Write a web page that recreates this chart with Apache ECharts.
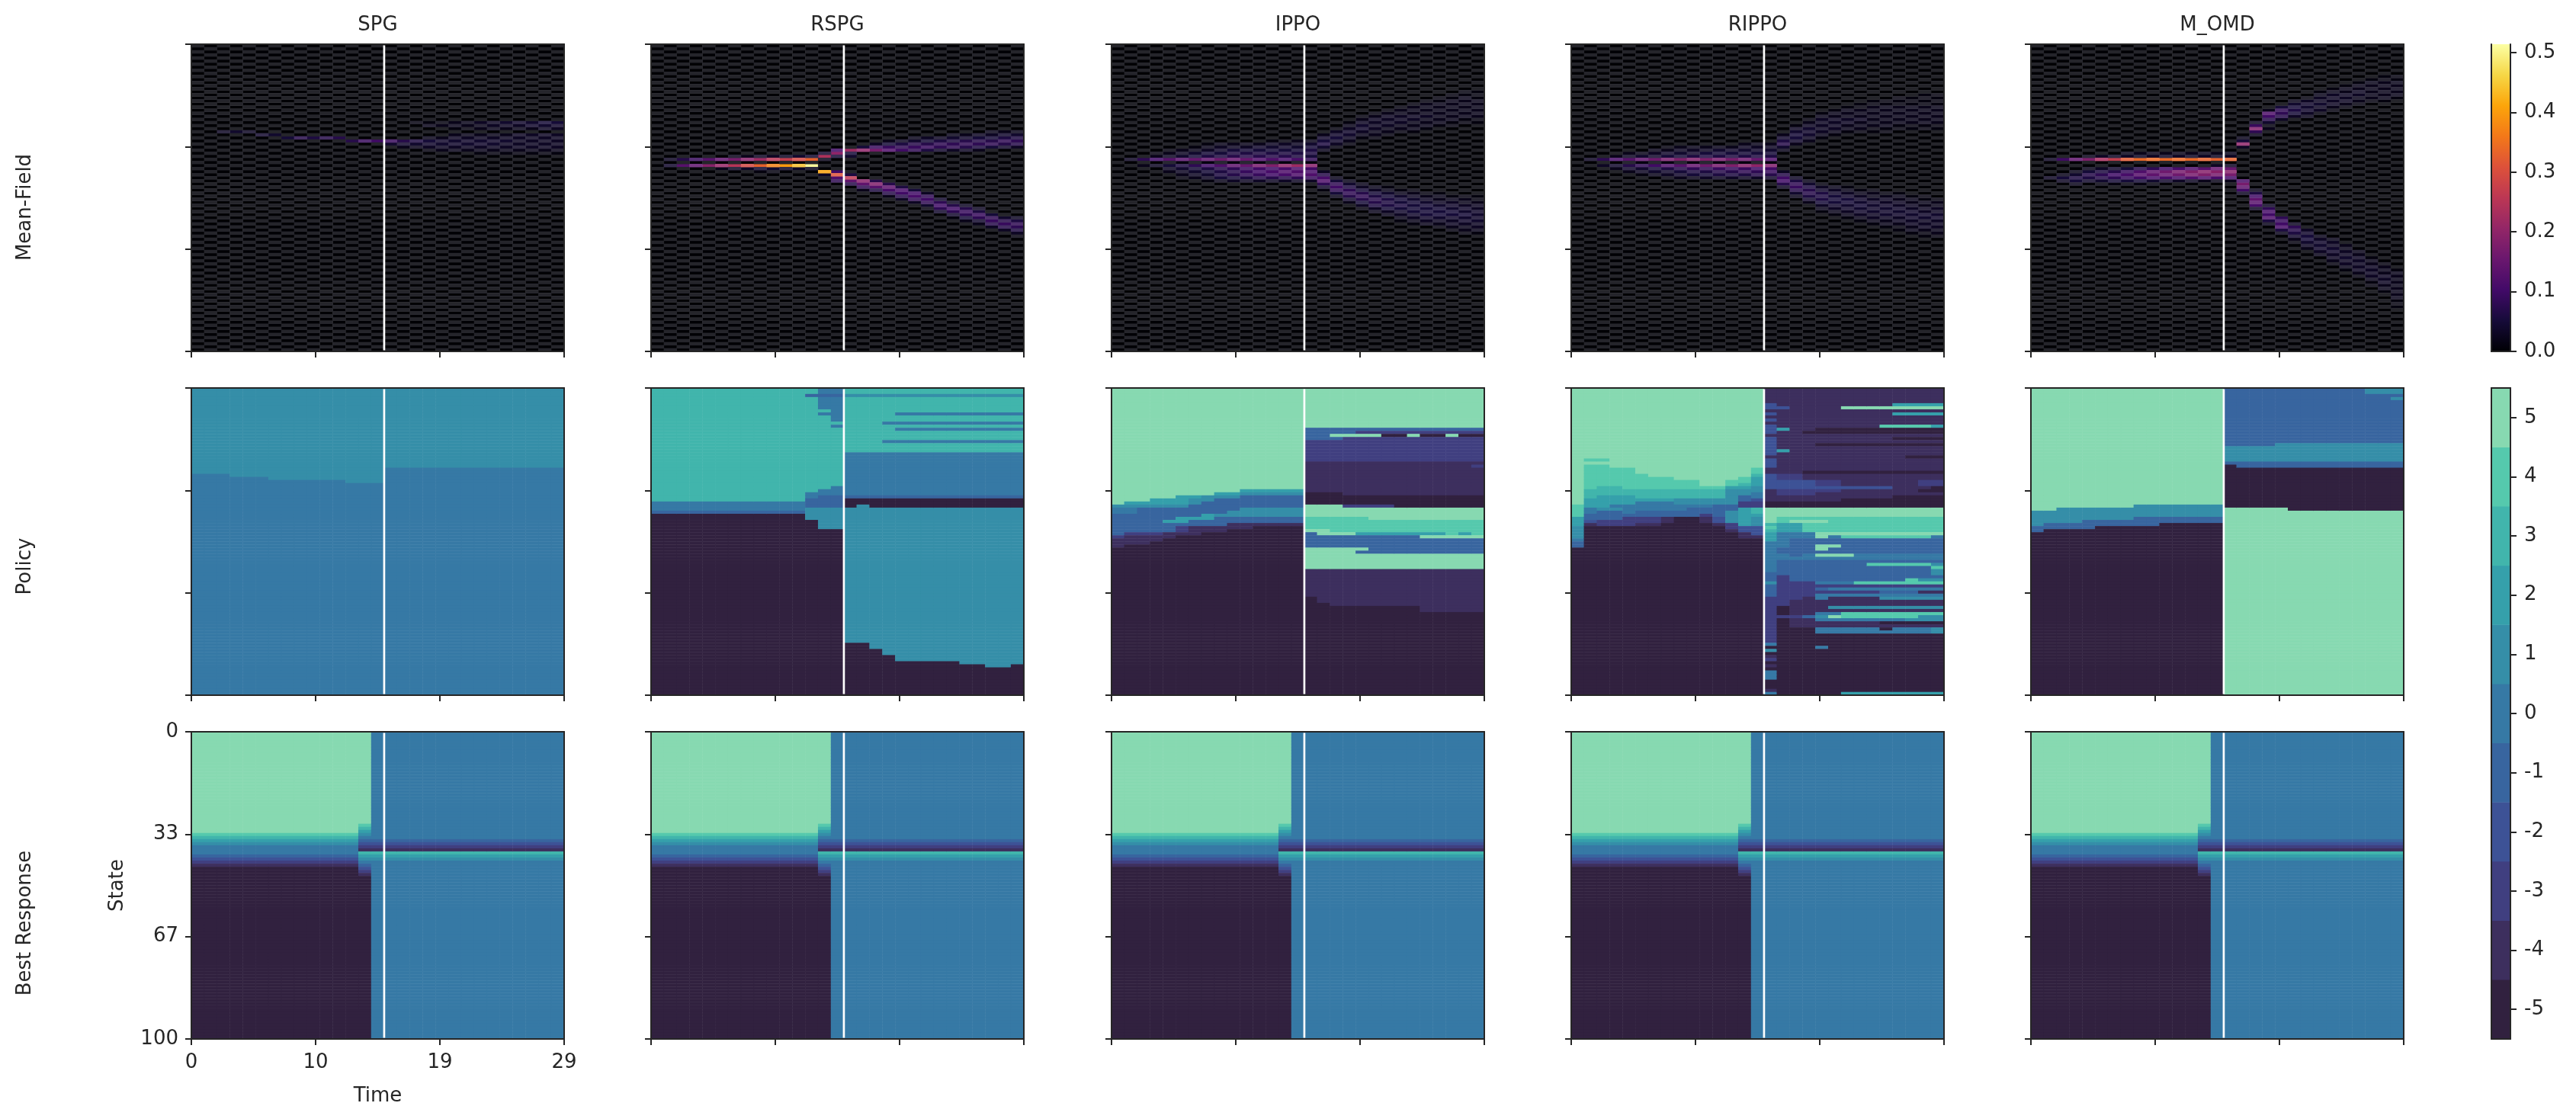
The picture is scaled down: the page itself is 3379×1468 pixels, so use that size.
<!DOCTYPE html>
<html><head><meta charset="utf-8">
<style>html,body{margin:0;padding:0;background:#fff}#c{width:3379px;height:1468px}</style>
<script src="https://cdn.jsdelivr.net/npm/echarts@6/dist/echarts.min.js"></script>
</head><body><div id="c"></div>
<script>
const methods = ['SPG','RSPG','IPPO','RIPPO','M_OMD'];
const rowNames = ['Mean-Field','Policy','Best Response'];
const timeTicks = [0,10,19,29];
const stateTicks = [0,33,67,100];
const levels = [-5,-4,-3,-2,-1,0,1,2,3,4,5];
const levelColors = ['#31213f','#3d2f5e','#403f80','#3d5296','#38659f','#3679a5','#358ea8','#35a0ab','#41b5ac','#55c9ad','#87d9b1'];
const infernoColors = ['#000004','#160b39','#420a68','#6a176e','#932667','#bc3754','#dd513a','#f37819','#fca50a','#f6d746','#fcffa4'];
const infernoLight = ['#25252b','#392f56','#5e2f7e','#803a84','#a3467e','#c6556d','#e26b57','#f58c3b','#fcb22f','#f7dd62','#fcffb1'];
const densityMax = 0.514;
const switchTime = 15;

// Mean-field density: one entry per time step; each holds [firstState, hundredths...] runs.
const meanSPG = [[],[],[[28,3]],[[28,4]],[[28,3]],[[29,4]],[[29,4]],[[30,5]],[[30,7]],[[30,6]],[[30,7]],[[30,7]],[[31,7]],[[31,9]],[[31,10]],
 [[31,9,4]],[[31,7,4,2]],[[25,1],[31,6,4,2]],[[25,1,2],[30,2,5,4,3,1]],[[25,1,2],[30,2,4,4,3,2]],[[25,2,2,1],[29,2,3,4,4,3,2]],[[25,2,2,1],[29,2,3,4,4,3,2]],
 [[25,3,2,2],[29,2,3,4,4,3,2,1]],[[25,3,3,2],[29,2,3,4,4,3,2,1]],[[25,4,3,2],[29,2,3,4,3,3,2,1]],[[25,4,3,2],[29,3,3,3,3,3,2,1]],[[25,4,4,2],[29,3,3,3,3,3,2,1]],[[25,5,4,3],[29,3,3,3,3,3,2,1]],[[25,5,4,3],[29,3,3,3,3,3,2,1]]];
const meanRSPG = [[],[[37,3],[39,4]],[[37,7],[39,13]],[[37,9],[39,14]],[[37,13],[39,19]],[[37,14],[39,21,2]],[[36,2,17],[39,25,3]],[[36,2,19],[39,29,3]],[[36,3,22],[39,33,4,1]],[[36,3,25],[39,37,4,1]],[[36,3,27],[39,40,3]],[[36,4,29],[39,44,3]],[[36,4,33],[39,51,2]],
 [[35,4,24,2],[41,41,3]],[[34,10,20,5],[41,10,31,12,8]],[[34,22,5,4],[42,6,26,14,7]],[[33,5,20],[44,19,14,8,2]],[[32,3,9,17],[44,7,18,13,6]],[[31,2,5,9,12],[45,7,14,11,7,2]],[[31,3,6,8,10],[46,6,11,10,7,3]],[[30,2,4,7,9,8],[47,5,10,11,8,3]],[[30,3,5,7,9,6],[48,3,8,10,8,4,1]],[[30,3,6,8,8,4],[50,4,8,10,8,4]],[[29,2,4,6,8,8,3],[51,3,7,10,8,4,1]],[[29,2,4,7,8,7,3],[52,3,7,9,8,5,2]],[[29,3,5,7,8,6,2],[53,3,6,9,8,4,2]],[[28,2,3,5,7,8,5],[55,5,8,9,7,3]],[[28,2,4,6,8,7,4],[56,4,7,9,7,3]],[[28,2,4,6,8,7,3],[56,3,6,8,8,6,3,1]]];
const meanIPPO = [[],[[37,3]],[[37,8],[39,2]],[[35,1,2,10,0,3]],[[34,1,2,3,13,1,5,3,2]],[[34,2,3,4,13,1,6,4,3,2,1]],[[33,1,2,4,5,15,1,8,5,4,3,2]],[[32,1,2,3,5,6,14,1,10,6,5,4,3,1]],[[32,2,3,4,5,6,16,1,12,7,6,6,5,2]],[[32,2,3,5,6,7,15,1,14,8,7,7,5,3]],[[32,2,3,5,6,7,15,1,15,9,9,8,6,3]],[[32,2,4,5,6,7,12,1,17,10,10,9,7,3]],[[31,1,3,4,5,6,7,12,1,18,10,11,10,7,3]],[[31,1,3,4,5,6,7,11,1,20,11,12,11,7,3]],[[31,2,3,4,5,6,6,11,1,22,12,12,12,8,3]],[[31,2,4,5,6,6,5,8,1,19,10,11,12,9,3]],
 [[29,2,4,5,6,4,2],[41,3,7,11,12,8,4,1]],[[27,1,3,4,5,4,3,1],[43,2,5,8,10,8,5,2]],[[25,1,2,3,4,4,3,2,1],[44,2,4,6,8,8,7,4,2]],[[23,1,2,3,4,4,3,2,1],[45,2,3,5,7,8,7,5,3,1]],[[22,1,2,3,3,3,3,2,2,1],[46,2,3,5,6,7,7,6,3,2]],[[21,1,2,3,3,3,3,2,2,1],[46,1,2,4,5,6,6,6,5,3,2]],[[20,1,2,2,3,3,3,2,2,1],[47,1,2,4,5,5,6,5,4,3,2,1]],[[19,1,2,2,2,3,3,2,2,2,1],[47,1,2,3,4,5,5,5,5,4,3,2,1]],[[18,1,2,2,2,2,3,2,2,2,1],[48,1,2,3,4,5,5,5,5,4,3,2]],[[17,1,1,2,2,2,2,2,2,2,1],[48,1,2,2,3,4,5,5,5,4,3,2,1]],[[16,1,1,2,2,2,2,2,2,2,1,1],[49,1,2,3,4,4,5,5,4,3,3,2,1]],[[15,1,1,2,2,2,2,2,2,2,1,1],[49,1,2,2,3,4,4,5,4,4,3,2,2,1]],[[15,1,1,1,2,2,2,2,2,2,1,1],[49,1,1,2,3,3,4,4,4,4,3,3,2,1]]];
const meanRIPPO = [[],[[37,3]],[[37,8],[39,3]],[[36,2,11,0,4,2]],[[35,2,3,13,1,7,4,2]],[[35,2,4,14,1,8,4,3,1]],[[34,2,3,4,16,1,10,5,4,2]],[[33,1,2,4,5,17,1,12,6,4,3,1]],[[33,2,3,4,5,18,1,13,7,5,4,2]],[[33,2,3,4,6,18,1,15,8,6,5,2]],[[33,2,3,5,6,18,1,16,8,6,5,3]],[[33,2,4,5,6,17,1,17,9,7,6,3]],[[33,2,4,5,6,17,1,18,9,7,6,3]],[[32,2,3,4,5,6,16,1,19,9,8,6,3]],[[32,2,3,4,5,6,15,1,20,10,8,7,3]],[[32,2,3,4,5,6,12,1,18,10,9,7,4]],
 [[29,2,4,6,7,4,2],[41,3,7,10,10,7,3]],[[26,1,3,4,5,5,4,2],[43,3,6,8,9,7,4,2]],[[24,1,2,3,4,4,4,3,2],[44,2,4,6,7,7,6,4,2]],[[22,1,2,3,3,3,3,3,2,1],[45,1,3,4,6,6,6,5,3,2,1]],[[21,1,2,2,3,3,3,3,2,1],[46,2,3,4,5,5,5,4,3,2,1]],[[20,1,2,2,2,3,3,2,2,1],[46,1,2,3,4,5,5,4,4,3,2,1]],[[19,1,1,2,2,2,3,2,2,2,1],[47,1,2,3,4,4,5,4,4,3,2,1]],[[18,1,1,2,2,2,2,2,2,2,1,1],[47,1,2,2,3,4,4,4,4,3,3,2,1]],[[18,1,1,2,2,2,2,2,2,2,1,1],[48,1,2,3,3,4,4,4,4,3,2,2,1]],[[17,1,1,1,2,2,2,2,2,2,1,1],[48,1,2,2,3,3,4,4,4,3,3,2,1,1]],[[17,1,1,1,2,2,2,2,2,2,1,1],[49,1,2,2,3,3,4,4,4,3,3,2,2,1]],[[16,1,1,1,1,2,2,2,2,2,2,1,1],[49,1,1,2,2,3,3,4,4,3,3,3,2,1,1]],[[16,1,1,1,1,2,2,2,2,2,2,1,1],[50,1,2,2,3,3,4,4,3,3,3,2,2,1]]];
const meanOMD = [[],[[37,3],[43,3]],[[37,10],[42,2,5,3]],[[37,14],[41,2,4,6,5,2]],[[36,2,18],[40,2,5,7,6,4]],[[36,3,23],[40,3,6,8,7,4,1]],[[36,3,27],[40,4,7,10,8,5,1]],[[35,2,3,32],[40,5,9,11,9,5,1]],[[35,2,3,34],[40,7,12,13,10,5,1]],[[35,2,3,34],[40,8,14,14,11,4,1]],[[35,2,3,34],[40,10,16,15,11,4]],[[35,2,3,34],[40,11,17,16,11,3]],[[35,2,3,34],[40,12,18,17,12,3]],[[35,2,3,33],[40,13,19,18,12,2]],[[35,2,3,33],[39,3,15,19,17,11,2]],[[35,2,3,33],[39,3,15,19,17,11,2]],
 [[30,2,5,20,3],[44,11,17,14,10,3]],[[25,3,9,18,8,2],[47,2,6,10,14,13,11,3]],[[21,2,12,10,7,4,1,2],[52,3,8,11,10,12,6,2]],[[20,5,8,8,7,3],[56,8,9,10,11,6,2]],[[18,2,4,5,6,5,3],[58,3,8,7,6,4,2,1]],[[17,1,3,4,4,4,3,2],[60,3,4,5,5,4,3,2]],[[15,1,2,3,3,4,3,3,1],[62,2,3,4,4,4,3,2]],[[14,1,2,3,3,3,3,2,1],[63,2,3,3,4,4,3,3,2,1]],[[13,1,2,2,3,3,3,2,1],[65,2,2,3,3,4,3,3,2,1]],[[12,1,2,2,3,3,2,2,1],[67,2,2,3,3,3,3,3,2,1]],[[11,1,2,2,2,2,2,2,1],[69,1,2,2,3,3,3,3,2,1,1]],[[10,1,1,2,2,2,2,2,2,1],[71,1,2,2,2,3,3,3,2,2,1]],[[10,1,1,2,2,2,2,2,1],[73,1,2,2,2,2,2,2,2,2,2,1,1,1]]];

// Policy / best response actions: [firstTime, lastTime, firstState, value, endState, value, endState, ...], later layers override.
const policySPG = [[0,2,0,1,28,0,100],[3,5,0,1,29,0,100],[6,11,0,1,30,0,100],[12,14,0,1,31,0,100],[15,28,0,1,26,0,100]];
const policyRSPG = [[0,11,0,3,37,0,40,-1,41,-5,100],[12,12,0,3,2,-1,3,3,34,0,36,-1,39,1,43,-5,100],[13,13,0,0,2,-1,3,0,7,3,8,0,9,3,33,0,35,-1,39,1,46,-5,100],[14,14,0,0,2,-1,3,0,11,3,12,0,13,3,32,0,35,-1,39,1,46,-5,100],
 [15,28,0,3,2,1,3,3,21,0,35,-1,36,-5,39,1,83,-5,100],[16,16,38,1,39],[17,17,39,1,85],[18,18,39,1,87],[19,23,39,1,89],[24,25,39,1,90],[26,27,39,1,91],[28,28,39,1,90],
 [18,28,11,0,12],[18,28,17,0,18],[19,28,8,0,9],[19,28,13,0,14]];
const policyIPPO = [[0,0,0,5,38,1,39,0,41,-1,48,-3,49,-4,52,-5,100],[1,1,0,5,37,2,38,1,39,0,41,-1,47,-3,48,-4,51,-5,100],[2,2,0,5,37,2,38,1,39,-1,47,-3,48,-4,51,-5,100],[3,3,0,5,36,2,38,1,39,-1,47,-3,48,-4,50,-5,100],[4,4,0,5,36,2,38,1,39,-1,43,2,44,-1,47,-4,49,-5,100],[5,5,0,5,35,2,38,1,39,-1,42,2,44,-1,45,-3,47,-4,48,-5,100],[6,6,0,5,35,2,36,1,38,-1,42,2,43,-1,45,-4,48,-5,100],[7,7,0,5,35,1,37,-1,41,2,43,-1,45,-4,47,-5,100],[8,8,0,5,34,2,35,1,36,-1,41,1,42,-1,45,-4,47,-5,100],[9,9,0,5,34,2,35,1,36,-1,40,1,42,-1,44,-4,46,-5,100],[10,10,0,5,33,2,34,1,35,-1,39,1,42,-1,44,-4,46,-5,100],[11,14,0,5,33,2,34,1,35,-1,39,1,42,-1,44,-4,45,-5,100],
 [15,28,0,5,13,-1,17,-3,24,-4,34,-5,38,5,42,4,46,5,47,-1,52,5,59,-4,68,-5,100],[17,28,46,4,47],[16,18,47,5,48],[19,28,47,2,48],[26,26,47,4,48],[28,28,47,4,48],[24,28,48,5,49],[20,28,42,5,43],[20,28,52,-1,53],[19,28,53,-1,54],[16,16,59,-4,70],[17,23,59,-4,71],[24,28,59,-4,73],
 [17,20,15,5,16],[21,22,15,-5,16],[23,23,15,5,16],[24,25,15,-5,16],[26,26,15,5,16],[27,28,15,-5,16],[19,28,14,-3,15],[18,28,16,-3,17],[18,28,34,-4,35],[18,21,38,-3,39],[22,28,38,-5,39],[28,28,25,-3,26]];
const policyRIPPO = [[0,0,0,5,38,4,42,2,45,1,49,0,50,-1,52,-5,100],[1,1,0,5,23,4,24,5,25,4,33,3,36,2,39,0,41,-1,43,-2,44,-4,45,-5,100],[2,2,0,5,23,4,24,5,25,4,32,3,35,2,39,1,40,-1,43,-3,45,-5,100],[3,3,0,5,26,4,32,3,35,2,38,0,39,1,40,-1,43,-3,45,-5,100],[4,4,0,5,26,4,33,3,35,2,38,0,41,-1,42,-3,45,-5,100],[5,5,0,5,28,4,33,3,36,2,37,0,40,-1,42,-3,44,-4,45,-5,100],[6,6,0,5,29,4,33,3,36,2,37,0,40,-1,42,-3,44,-4,45,-5,100],[7,7,0,5,29,4,33,3,36,2,37,0,40,-1,42,-4,44,-5,100],[8,8,0,5,30,4,33,3,36,1,38,0,40,-1,42,-5,100],[9,9,0,5,30,4,33,3,36,1,38,0,39,-1,42,-5,100],[10,10,0,5,32,4,33,3,36,1,38,0,39,-1,41,-3,42,-4,44,-5,100],[11,11,0,5,32,4,33,3,36,1,38,-1,42,-2,44,-4,45,-5,100],[12,12,0,5,30,4,32,2,33,1,38,-1,40,1,44,-3,46,-4,47,-5,100],[13,13,0,5,29,4,31,3,32,2,33,1,35,-1,37,-3,39,2,45,-2,47,-4,49,-5,100],[14,14,0,5,26,4,28,3,29,2,32,1,34,0,36,-2,37,-3,39,3,41,2,42,1,45,-2,48,-4,49,-5,100],
 [15,15,0,-4,5,-2,7,-4,8,-2,9,-4,10,-2,11,-4,12,-2,15,-4,16,-2,22,-4,23,-2,26,-4,28,-2,33,-4,37,-5,39,5,44,3,45,4,46,3,47,2,50,0,60,-1,63,1,64,-1,68,-3,83,0,84,-5,85,1,86,-5,87,-4,88,-3,89,-5,90,-4,91,-5,92,0,95,-5,98,-4,99,0,100],
 [16,28,0,-4,37,-5,39,5,42],[16,16,42,4,44,2,47,0,52,-1,54,0,56,-1,61,-3,71,-5,74,-3,75,-5,100],[17,17,42,4,43,5,44,2,47,0,49,-1,55,0,56,-1,63,-3,69,-4,74,-3,75,-4,78,-5,100],[18,18,42,4,43,5,44,4,47,0,49,-1,54,0,56,-1,63,-3,68,-4,74,-1,75,-4,78,-5,100],[19,19,42,4,43,5,44,4,47,5,49,-1,51,5,53,-1,54,5,55,0,56,-1,63,0,64,-3,65,-1,66,-3,67,0,69,-4,73,0,74,1,75,0,76,-4,78,0,80,-5,84,0,85,-5,100],
 [20,28,42,4,47,5,48,4,49,-1,54,0,56,-1,63,4,64,-3,65,0,66,-3,67,0,68,-4,71,1,72,-4,73,4,75,0,76,-4,78,0,80,-5,100],[20,20,48,0,49,-1,51,5,52,-1,54,5,55],[21,21,54,5,55],[20,21,63,0,64],[28,28,48,0,49],[23,27,57,4,58],[28,28,57,1,58,4,59,1,61],[26,26,62,4,63],[27,28,62,1,63],[24,26,66,-1,67],[27,28,66,-4,67],[24,28,68,1,69],[20,20,73,0,74],[20,20,74,5,75],[27,28,74,1,75],[26,28,75,1,76],[24,28,76,-5,77],[24,24,78,-5,79],[28,28,78,1,80],[21,28,99,2,100],
 [16,16,6,-2,7],[21,28,6,5,7],[25,28,5,2,6],[25,28,8,2,9],[24,27,12,4,13],[28,28,12,2,13],[16,16,13,2,14],[19,28,13,-5,14],[18,28,14,-5,15],[25,28,16,-5,17],[19,28,18,-5,19],[16,16,20,2,21],[26,28,22,-5,23],[18,28,27,-5,28],[16,17,28,-3,30],[16,18,30,-2,32],[19,20,30,-3,32],[27,28,30,-3,32],[16,24,32,-2,33],[25,28,32,-4,33],[28,28,32,-5,33],[16,20,33,-3,34],[27,28,33,-5,34],[16,18,34,-3,35],[25,28,35,-5,36],[21,28,36,-5,37]];
const policyOMD = [[0,0,0,5,40,1,45,-1,47,-5,100],[1,1,0,5,40,1,44,-1,46,-5,100],[2,3,0,5,39,1,44,-1,46,-5,100],[4,4,0,5,39,1,43,-1,46,-5,100],[5,7,0,5,39,1,43,-1,45,-5,100],[8,9,0,5,38,1,42,-1,45,-5,100],[10,14,0,5,38,1,42,-1,44,-5,100],[15,15,0,-1,19,1,24,-1,25,-5,39,5,100],[16,18,0,-1,19,1,24,-1,26,-5,39,5,100],[19,19,0,-1,18,1,24,-1,26,-5,39,5,100],[20,28,0,-1,18,1,24,-1,26,-5,40,5,100],[26,28,0,1,2],[28,28,3,1,4]];
const bestResponse = [[0,12,0,5,33,4,34,3,35,2,36,1,37,0,40,-1,41,-2,42,-3,43,-4,44,-5,100],[13,13,0,5,30,4,31,3,32,2,33,1,34,0,35,-1,36,-2,37,-3,38,-4,39,3,40,2,41,1,42,0,43,-1,44,-2,45,-3,46,-4,47,-5,100],[14,28,0,0,35,-1,36,-2,37,-3,38,-4,39,3,40,2,41,1,42,0,100]];

const meanPanels = [meanSPG,meanRSPG,meanIPPO,meanRIPPO,meanOMD];
const policyPanels = [policySPG,policyRSPG,policyIPPO,policyRIPPO,policyOMD];

const T = 29, S = 100;
const times = Array.from({length:T},(_,i)=>String(i));
const states = Array.from({length:S},(_,i)=>String(i));

function expandMean(cols){
  const light=[],dark=[];
  cols.forEach((segs,t)=>{
    const col=new Array(S).fill(0);
    segs.forEach(seg=>seg.slice(1).forEach((v,i)=>{col[seg[0]+i]=v/100;}));
    col.forEach((v,s)=>{((t+s)%2===0?light:dark).push([t,s,v]);});
  });
  return {light,dark};
}
function expandActions(layers){
  const g=Array.from({length:T},()=>new Array(S).fill(-5));
  layers.forEach(l=>{for(let t=l[0];t<=l[1];t++){let r=l[2];for(let i=3;i<l.length;i+=2){for(;r<l[i+1];r++)g[t][r]=l[i];}}});
  const out=[];g.forEach((c,t)=>c.forEach((v,s)=>out.push([t,s,v])));return out;
}

const INK='#262626', FONT='DejaVu Sans', FS=26;
const lefts=[251,854,1458,2061,2664], tops=[58,509,960], W=489, H=403;
const grids=[],xAxes=[],yAxes=[],series=[],darkIdx=[],lightIdx=[],actionIdx=[];

function addPanel(r,c){
  const gi=grids.length;
  grids.push({left:lefts[c],top:tops[r],width:W,height:H,containLabel:false});
  const a=gi*2, b=gi*2+1;
  const showX=(r===2&&c===0), showY=(r===2&&c===0);
  const line={show:true,onZero:false,lineStyle:{color:INK,width:2}};
  const base={z:10,silent:true};
  xAxes[a]={...base,gridIndex:gi,type:'category',data:times,position:'top',axisLine:line,axisTick:{show:false},axisLabel:{show:false},splitLine:{show:false}};
  xAxes[b]={...base,gridIndex:gi,type:'value',min:0,max:29,interval:29/3,position:'bottom',axisLine:line,
    axisTick:{show:true,length:8,lineStyle:{color:INK,width:2}},splitLine:{show:false},
    axisLabel:{show:showX,margin:18,alignMinLabel:'center',alignMaxLabel:'center',color:INK,fontFamily:FONT,fontSize:FS,formatter:v=>timeTicks[Math.round(v/(29/3))]},
    name:showX?'Time':'',nameLocation:'middle',nameGap:62,nameTextStyle:{color:INK,fontFamily:FONT,fontSize:FS}};
  yAxes[a]={...base,gridIndex:gi,type:'category',data:states,inverse:true,position:'right',axisLine:line,axisTick:{show:false},axisLabel:{show:false},splitLine:{show:false}};
  yAxes[b]={...base,gridIndex:gi,type:'value',min:0,max:100,interval:100/3,inverse:true,position:'left',axisLine:line,
    axisTick:{show:true,length:8,lineStyle:{color:INK,width:2}},splitLine:{show:false},
    axisLabel:{show:showY,margin:17,verticalAlignMinLabel:'middle',verticalAlignMaxLabel:'middle',color:INK,fontFamily:FONT,fontSize:FS,formatter:v=>stateTicks[Math.round(v/(100/3))]},
    name:showY?'State':'',nameLocation:'middle',nameGap:84,nameRotate:90,nameTextStyle:{color:INK,fontFamily:FONT,fontSize:FS}};
  const heat=(data)=>({type:'heatmap',xAxisIndex:a,yAxisIndex:a,data,progressive:0,animation:false,silent:true,z:2,emphasis:{disabled:true}});
  if(r===0){
    const m=expandMean(meanPanels[c]);
    darkIdx.push(series.length);series.push(heat(m.dark));
    lightIdx.push(series.length);series.push(heat(m.light));
  }else{
    actionIdx.push(series.length);
    series.push(heat(expandActions(r===1?policyPanels[c]:bestResponse)));
  }
  series.push({type:'line',xAxisIndex:b,yAxisIndex:b,data:[[switchTime,0.4],[switchTime,99.6]],symbol:'none',silent:true,animation:false,z:5,lineStyle:{color:'#ffffff',width:2.7}});
}
for(let r=0;r<3;r++)for(let c=0;c<5;c++)addPanel(r,c);

// Colour bars
const cbLeft=3268,cbW=25;
{
  const gi=grids.length;
  grids.push({left:cbLeft,top:tops[0],width:cbW,height:H});
  xAxes[gi*2]={gridIndex:gi,type:'category',data:[''],show:true,position:'top',z:10,axisLine:{lineStyle:{color:INK,width:2}},axisTick:{show:false},axisLabel:{show:false}};
  xAxes[gi*2+1]={gridIndex:gi,type:'category',data:[''],show:true,position:'bottom',z:10,axisLine:{onZero:false,lineStyle:{color:INK,width:2}},axisTick:{show:false},axisLabel:{show:false}};
  yAxes[gi*2]={gridIndex:gi,type:'value',min:0,max:densityMax,position:'left',z:10,axisLine:{show:true,onZero:false,lineStyle:{color:INK,width:2}},axisTick:{show:false},axisLabel:{show:false},splitLine:{show:false}};
  yAxes[gi*2+1]={gridIndex:gi,type:'value',min:0,max:densityMax,interval:0.1,position:'right',z:10,axisLine:{show:true,onZero:false,lineStyle:{color:INK,width:2}},axisTick:{show:true,length:8,lineStyle:{color:INK,width:2}},splitLine:{show:false},
    axisLabel:{margin:18,verticalAlignMinLabel:'middle',color:INK,fontFamily:FONT,fontSize:FS,formatter:v=>v.toFixed(1)}};
  series.push({type:'bar',xAxisIndex:gi*2,yAxisIndex:gi*2+1,data:[densityMax],barWidth:'100%',silent:true,animation:false,z:2,
    itemStyle:{color:{type:'linear',x:0,y:1,x2:0,y2:0,colorStops:infernoColors.map((c,i)=>({offset:i/(infernoColors.length-1),color:c}))}}});
}
{
  const gi=grids.length;
  grids.push({left:cbLeft,top:tops[1],width:cbW,height:tops[2]+H-tops[1]});
  const labels=levels.map(String);
  xAxes[gi*2]={gridIndex:gi,type:'category',data:[''],position:'top',z:10,axisLine:{lineStyle:{color:INK,width:2}},axisTick:{show:false},axisLabel:{show:false}};
  xAxes[gi*2+1]={gridIndex:gi,type:'category',data:[''],position:'bottom',z:10,axisLine:{onZero:false,lineStyle:{color:INK,width:2}},axisTick:{show:false},axisLabel:{show:false}};
  yAxes[gi*2]={gridIndex:gi,type:'category',data:labels,position:'right',z:10,axisLine:{show:true,onZero:false,lineStyle:{color:INK,width:2}},axisTick:{show:true,alignWithLabel:true,interval:0,length:8,lineStyle:{color:INK,width:2}},
    axisLabel:{interval:0,margin:18,color:INK,fontFamily:FONT,fontSize:FS}};
  yAxes[gi*2+1]={gridIndex:gi,type:'category',data:labels,position:'left',z:10,axisLine:{show:true,onZero:false,lineStyle:{color:INK,width:2}},axisTick:{show:false},axisLabel:{show:false}};
  actionIdx.push(series.length);
  series.push({type:'heatmap',xAxisIndex:gi*2,yAxisIndex:gi*2,data:levels.map((v,i)=>[0,i,v]),progressive:0,animation:false,silent:true,z:2,emphasis:{disabled:true}});
}

const option={
  backgroundColor:'#ffffff',animation:false,tooltip:{show:false},
  title:methods.map((m,c)=>({text:m,left:lefts[c]+W/2,top:20,padding:0,textAlign:'center',textStyle:{color:INK,fontFamily:FONT,fontSize:FS,fontWeight:'normal'}})),
  grid:grids,xAxis:xAxes,yAxis:yAxes,series,
  visualMap:[
    {type:'continuous',show:false,calculable:false,min:0,max:densityMax,dimension:2,seriesIndex:darkIdx,inRange:{color:infernoColors}},
    {type:'continuous',show:false,calculable:false,min:0,max:densityMax,dimension:2,seriesIndex:lightIdx,inRange:{color:infernoLight}},
    {type:'piecewise',show:false,dimension:2,seriesIndex:actionIdx,pieces:levels.map((v,i)=>({value:v,color:levelColors[i]}))}
  ],
  graphic:rowNames.map((n,i)=>({type:'text',x:33,y:[272,743,1211][i],rotation:Math.PI/2,silent:true,style:{text:n,fill:INK,font:FS+'px "DejaVu Sans"',textAlign:'center',textVerticalAlign:'middle'}}))
};
const chart=echarts.init(document.getElementById('c'),null,{renderer:'canvas',width:3379,height:1468});
chart.setOption(option);
</script></body></html>
